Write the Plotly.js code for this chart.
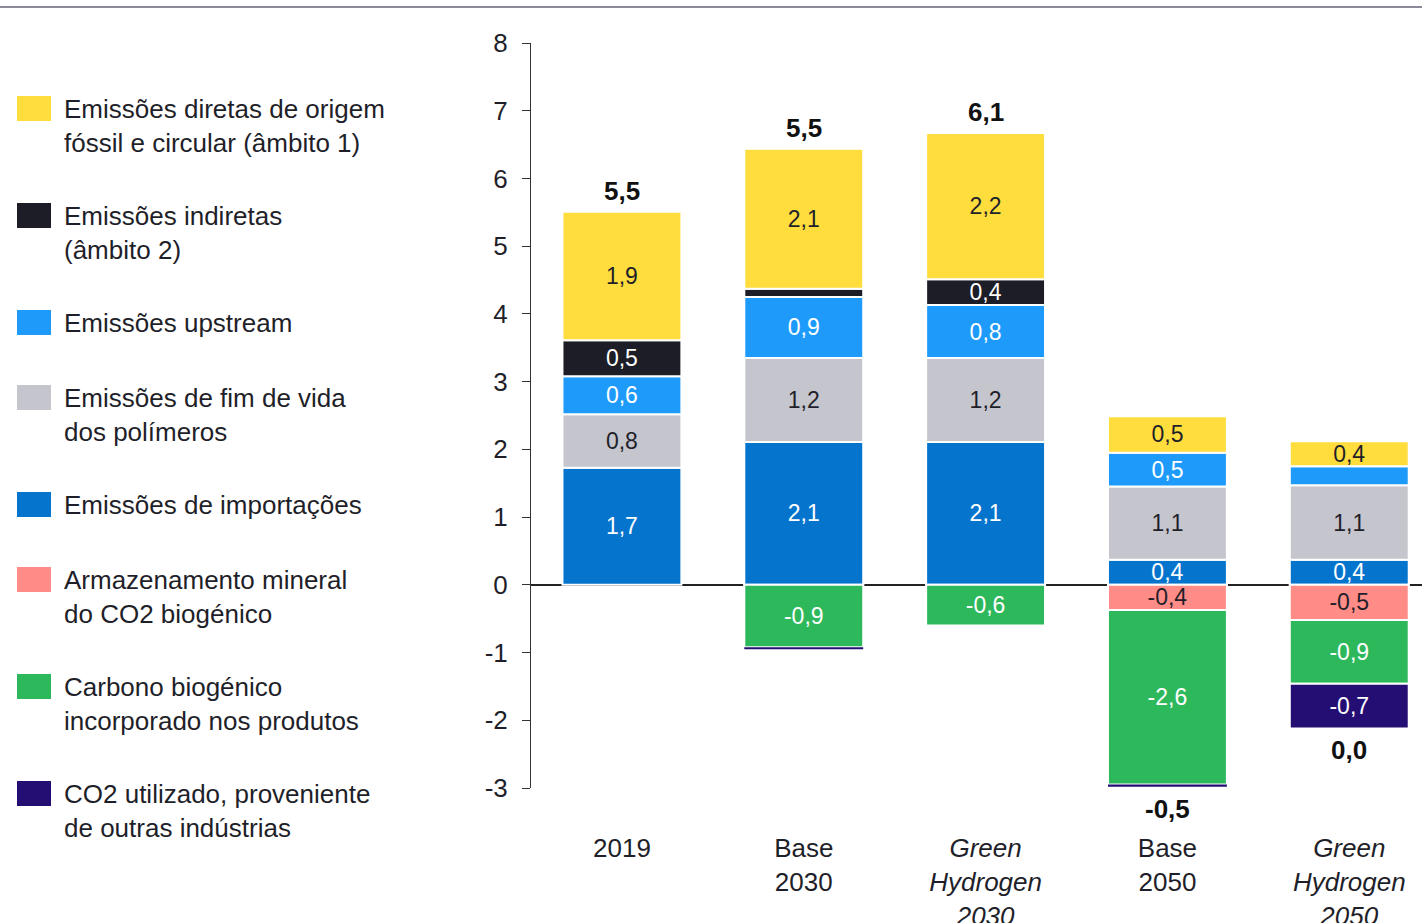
<!DOCTYPE html>
<html>
<head>
<meta charset="utf-8">
<script src="https://cdn.plot.ly/plotly-3.0.1.min.js"></script>
<style>html,body{margin:0;padding:0;background:#fff;}#chart{width:1422px;height:923px;}</style>
</head>
<body>
<div id="chart"></div>
<script>
// ---- data ----
const categories = ['2019', 'Base 2030', 'Green Hydrogen 2030', 'Base 2050', 'Green Hydrogen 2050'];
const tickLabels = ['2019', 'Base<br>2030', '<i>Green</i><br><i>Hydrogen</i><br><i>2030</i>', 'Base<br>2050', '<i>Green</i><br><i>Hydrogen</i><br><i>2050</i>'];
const yTickValues = [-3, -2, -1, 0, 1, 2, 3, 4, 5, 6, 7, 8];
const yTickLabels = ['-3', '-2', '-1', '0', '1', '2', '3', '4', '5', '6', '7', '8'];

const importacoes   = [1.73, 2.11, 2.11, 0.37, 0.37];
const fimDeVida     = [0.79, 1.24, 1.24, 1.08, 1.10];
const upstream      = [0.56, 0.90, 0.78, 0.50, 0.28];
const indiretas     = [0.53, 0.12, 0.38, 0.00, 0.00];
const diretas       = [1.90, 2.07, 2.16, 0.54, 0.37];
const armazenamento = [0.00, 0.00, 0.00, -0.37, -0.52];
const carbono       = [0.00, -0.92, -0.60, -2.58, -0.94];
const co2Utilizado  = [0.00, -0.03, 0.00, -0.03, -0.66];

const seriesNames = [
  'Emissões de importações',
  'Emissões de fim de vida<br>dos polímeros',
  'Emissões upstream',
  'Emissões indiretas<br>(âmbito 2)',
  'Emissões diretas de origem<br>fóssil e circular (âmbito 1)',
  'Armazenamento mineral<br>do CO2 biogénico',
  'Carbono biogénico<br>incorporado nos produtos',
  'CO2 utilizado, proveniente<br>de outras indústrias'
];
const seriesValues = [importacoes, fimDeVida, upstream, indiretas, diretas, armazenamento, carbono, co2Utilizado];
const seriesColors = ['#0474CC', '#C5C5CD', '#1E9BFA', '#1C1D26', '#FFDD3C', '#FF8C87', '#2EB85C', '#250E73'];
const labelColors  = ['#ffffff', '#1f1f2a', '#ffffff', '#ffffff', '#1f1f2a', '#1f1f2a', '#ffffff', '#ffffff'];
const legendOrder  = [4, 3, 2, 1, 0, 5, 6, 7];

// ---- helpers ----
const fmt = v => { let r = Math.round(v * 10) / 10; if (Math.abs(r) < 1e-9) r = 0; return r.toFixed(1).replace('.', ','); };
const FONT = 'Liberation Sans, Arial, sans-serif';

const traces = seriesValues.map((vals, i) => ({
  type: 'bar',
  x: categories,
  y: vals,
  name: seriesNames[i],
  marker: {
    color: seriesColors[i],
    line: { color: '#ffffff', width: vals.map(v => Math.abs(v) < 0.1 ? 0 : 2) }
  },
  text: vals.map(v => Math.abs(v) >= 0.3 ? fmt(v) : ''),
  texttemplate: '%{text}',
  textposition: 'inside',
  insidetextanchor: 'middle',
  textangle: 0,
  constraintext: 'none',
  insidetextfont: { family: FONT, size: 23, color: labelColors[i] },
  hoverinfo: 'skip',
  showlegend: false
}));

// ---- totals ----
const posSum = categories.map((c, k) => seriesValues.reduce((s, a) => s + Math.max(a[k], 0), 0));
const negSum = categories.map((c, k) => seriesValues.reduce((s, a) => s + Math.min(a[k], 0), 0));
const net = categories.map((c, k) => posSum[k] + negSum[k]);

const annotations = categories.map((c, k) => {
  const above = Math.round(net[k] * 10) / 10 > 0;
  return {
    x: k, y: above ? posSum[k] : negSum[k], xref: 'x', yref: 'y',
    text: '<b>' + fmt(net[k]) + '</b>', showarrow: false,
    yanchor: above ? 'bottom' : 'top', yshift: above ? 4 : -5,
    font: { family: FONT, size: 26, color: '#111111' }
  };
});

// ---- custom legend (left side) ----
const L = 531, R = 0, T = 43, B = 135, W = 1422, H = 923;
const pw = W - L - R, ph = H - T - B;
const px2x = p => (p - L) / pw;
const py2y = p => (H - B - p) / ph;
const shapes = [];
let cy = 110;
legendOrder.forEach(i => {
  const nLines = seriesNames[i].split('<br>').length;
  shapes.push({
    type: 'rect', xref: 'paper', yref: 'paper',
    x0: px2x(17), x1: px2x(51), y0: py2y(cy - 14), y1: py2y(cy + 11),
    fillcolor: seriesColors[i], line: { width: 0 }
  });
  annotations.push({
    xref: 'paper', yref: 'paper', x: px2x(62), y: py2y(cy - 18),
    xanchor: 'left', yanchor: 'top', align: 'left', showarrow: false,
    text: seriesNames[i], font: { family: FONT, size: 26, color: '#1f1f2a' }
  });
  cy += (nLines - 1) * 32 + 75;
});
// top rule
shapes.push({ type: 'line', xref: 'paper', yref: 'paper', x0: px2x(0), x1: 1, y0: py2y(7), y1: py2y(7), line: { color: '#8a8a99', width: 2 } });

const layout = {
  width: W, height: H,
  margin: { l: L, r: R, t: T, b: B },
  barmode: 'relative',
  bargap: 0.346,
  separators: ', ',
  paper_bgcolor: '#ffffff', plot_bgcolor: '#ffffff',
  font: { family: FONT, size: 26, color: '#1f1f2a' },
  showlegend: false,
  xaxis: {
    type: 'category', range: [-0.5, 4.4],
    tickmode: 'array', tickvals: categories, ticktext: tickLabels,
    showline: false, ticks: '', showgrid: false, zeroline: false,
    ticklabelstandoff: 42,
    tickfont: { family: FONT, size: 26, color: '#1f1f2a' }
  },
  yaxis: {
    range: [-3, 8], tickmode: 'array', tickvals: yTickValues, ticktext: yTickLabels,
    showline: true, linecolor: '#333333', linewidth: 1,
    ticks: 'outside', ticklen: 8, tickcolor: '#333333', tickwidth: 1,
    showgrid: false, zeroline: true, zerolinecolor: '#222222', zerolinewidth: 1.5,
    ticklabelstandoff: 9,
    tickfont: { family: FONT, size: 26, color: '#1f1f2a' }
  },
  annotations: annotations,
  shapes: shapes
};

Plotly.newPlot('chart', traces, layout, { staticPlot: true, displayModeBar: false });
</script>
</body>
</html>
